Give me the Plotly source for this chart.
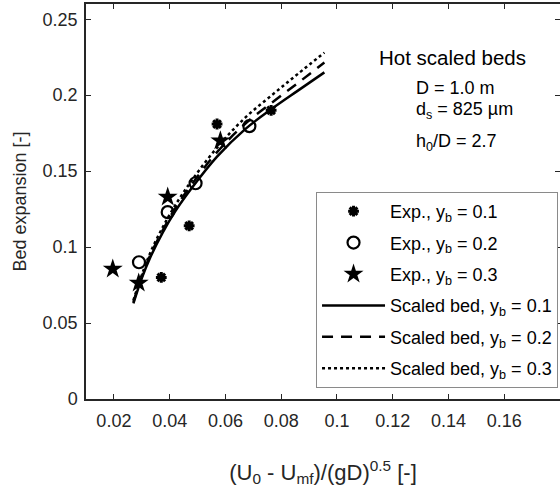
import plotly.graph_objects as go

# ---- data ----
exp1_x = [0.037, 0.047, 0.057, 0.0764]
exp1_y = [0.080, 0.114, 0.181, 0.190]
exp2_x = [0.029, 0.0393, 0.0493, 0.0686]
exp2_y = [0.090, 0.123, 0.142, 0.1796]
exp3_x = [0.0196, 0.0289, 0.0393, 0.0582]
exp3_y = [0.0855, 0.0763, 0.133, 0.170]

fit_x = [0.027, 0.030, 0.033, 0.0375, 0.042, 0.048, 0.057, 0.067, 0.077, 0.086, 0.0955]
fit_y1 = [0.063, 0.0795, 0.093, 0.1095, 0.1235, 0.139, 0.1595, 0.1775, 0.1915, 0.2030, 0.215]
fit_y2 = [0.064, 0.0805, 0.0945, 0.111, 0.1255, 0.1415, 0.1625, 0.1810, 0.1955, 0.2080, 0.2215]
fit_y3 = [0.065, 0.0815, 0.096, 0.113, 0.1275, 0.1440, 0.1655, 0.1850, 0.2005, 0.2140, 0.228]

x_ticks = [0.02, 0.04, 0.06, 0.08, 0.10, 0.12, 0.14, 0.16]
y_ticks = [0, 0.05, 0.10, 0.15, 0.20, 0.25]

FONT = "Liberation Sans, Arial, sans-serif"
INK = "#262626"

fig = go.Figure()
fig.add_trace(go.Scatter(x=exp1_x, y=exp1_y, mode="markers", name="Exp., y<sub>b</sub> = 0.1",
                         legendgroup="a",
                         marker=dict(symbol="asterisk-open", size=9, color="black",
                                     line=dict(color="black", width=3))))
fig.add_trace(go.Scatter(x=exp2_x, y=exp2_y, mode="markers", name="Exp., y<sub>b</sub> = 0.2",
                         legendgroup="b",
                         marker=dict(symbol="circle-open", size=12, color="black",
                                     line=dict(color="black", width=2.2))))
fig.add_trace(go.Scatter(x=exp3_x, y=exp3_y, mode="markers", name="Exp., y<sub>b</sub> = 0.3",
                         legendgroup="c",
                         marker=dict(symbol="star", size=15, color="black",
                                     line=dict(color="black", width=0))))
fig.add_trace(go.Scatter(x=fit_x, y=fit_y1, mode="lines", name="Scaled bed, y<sub>b</sub> = 0.1",
                         legendgroup="d", line=dict(color="black", width=2.5, shape="spline")))
fig.add_trace(go.Scatter(x=fit_x, y=fit_y2, mode="lines", name="Scaled bed, y<sub>b</sub> = 0.2",
                         legendgroup="e", line=dict(color="black", width=2.5, dash="11px,8px",
                                                    shape="spline")))
fig.add_trace(go.Scatter(x=fit_x, y=fit_y3, mode="lines", name="Scaled bed, y<sub>b</sub> = 0.3",
                         legendgroup="f", line=dict(color="black", width=2.5, dash="3px,3px",
                                                    shape="spline")))

W, H = 562, 499
ml, mr, mt, mb = 86, 0, 4, 100
fig.update_layout(
    width=W, height=H,
    margin=dict(l=ml, r=mr, t=mt, b=mb),
    paper_bgcolor="white", plot_bgcolor="white",
    font=dict(family=FONT, size=18, color=INK),
    showlegend=True,
    legend=dict(x=(317 - ml) / (W - ml - mr), y=(H - mb - 192) / (H - mt - mb),
                xanchor="left", yanchor="top",
                bgcolor="white", bordercolor="#8a8a8a", borderwidth=1,
                font=dict(family=FONT, size=18, color="black"),
                tracegroupgap=5, itemwidth=63),
    xaxis=dict(range=[0.01, 0.01 + (W - ml - mr) / 2800], tickvals=x_ticks,
               ticktext=[f"{v:g}" for v in x_ticks],
               ticks="inside", ticklen=5, tickcolor=INK, tickwidth=1.2,
               showline=True, linecolor=INK, linewidth=1.5, mirror="ticks",
               showgrid=False, zeroline=False,
               tickfont=dict(size=18, color=INK), ticklabelstandoff=5,
               title=dict(text="(U<sub>0</sub> - U<sub>mf</sub>)/(gD)<sup>0.5</sup> [-]",
                          font=dict(size=22, color=INK), standoff=34)),
    yaxis=dict(range=[0, 0.26], tickvals=y_ticks,
               ticktext=[f"{v:g}" for v in y_ticks],
               ticks="inside", ticklen=5, tickcolor=INK, tickwidth=1.2,
               showline=True, linecolor=INK, linewidth=1.5, mirror="ticks",
               showgrid=False, zeroline=False,
               tickfont=dict(size=18, color=INK), ticklabelstandoff=3,
               title=dict(text="Bed expansion [-]", font=dict(size=18, color=INK), standoff=11)),
)

fig.add_annotation(x=0.1416, y=0.225, xref="x", yref="y", text="Hot scaled beds",
                   showarrow=False, xanchor="center", yanchor="middle",
                   font=dict(size=20.5, color="black", family=FONT))
fig.add_annotation(x=0.1275, y=0.2046, xref="x", yref="y", text="D = 1.0 m",
                   showarrow=False, xanchor="left", yanchor="middle",
                   font=dict(size=18, color="black", family=FONT))
fig.add_annotation(x=0.1275, y=0.1896, xref="x", yref="y", text="d<sub>s</sub> = 825 µm",
                   showarrow=False, xanchor="left", yanchor="middle",
                   font=dict(size=18, color="black", family=FONT))
fig.add_annotation(x=0.1275, y=0.1690, xref="x", yref="y", text="h<sub>0</sub>/D = 2.7",
                   showarrow=False, xanchor="left", yanchor="middle",
                   font=dict(size=18, color="black", family=FONT))

fig.write_html("out.html", config={"displayModeBar": False},
               post_script="document.body.style.margin='0';document.body.style.overflow='hidden';")
